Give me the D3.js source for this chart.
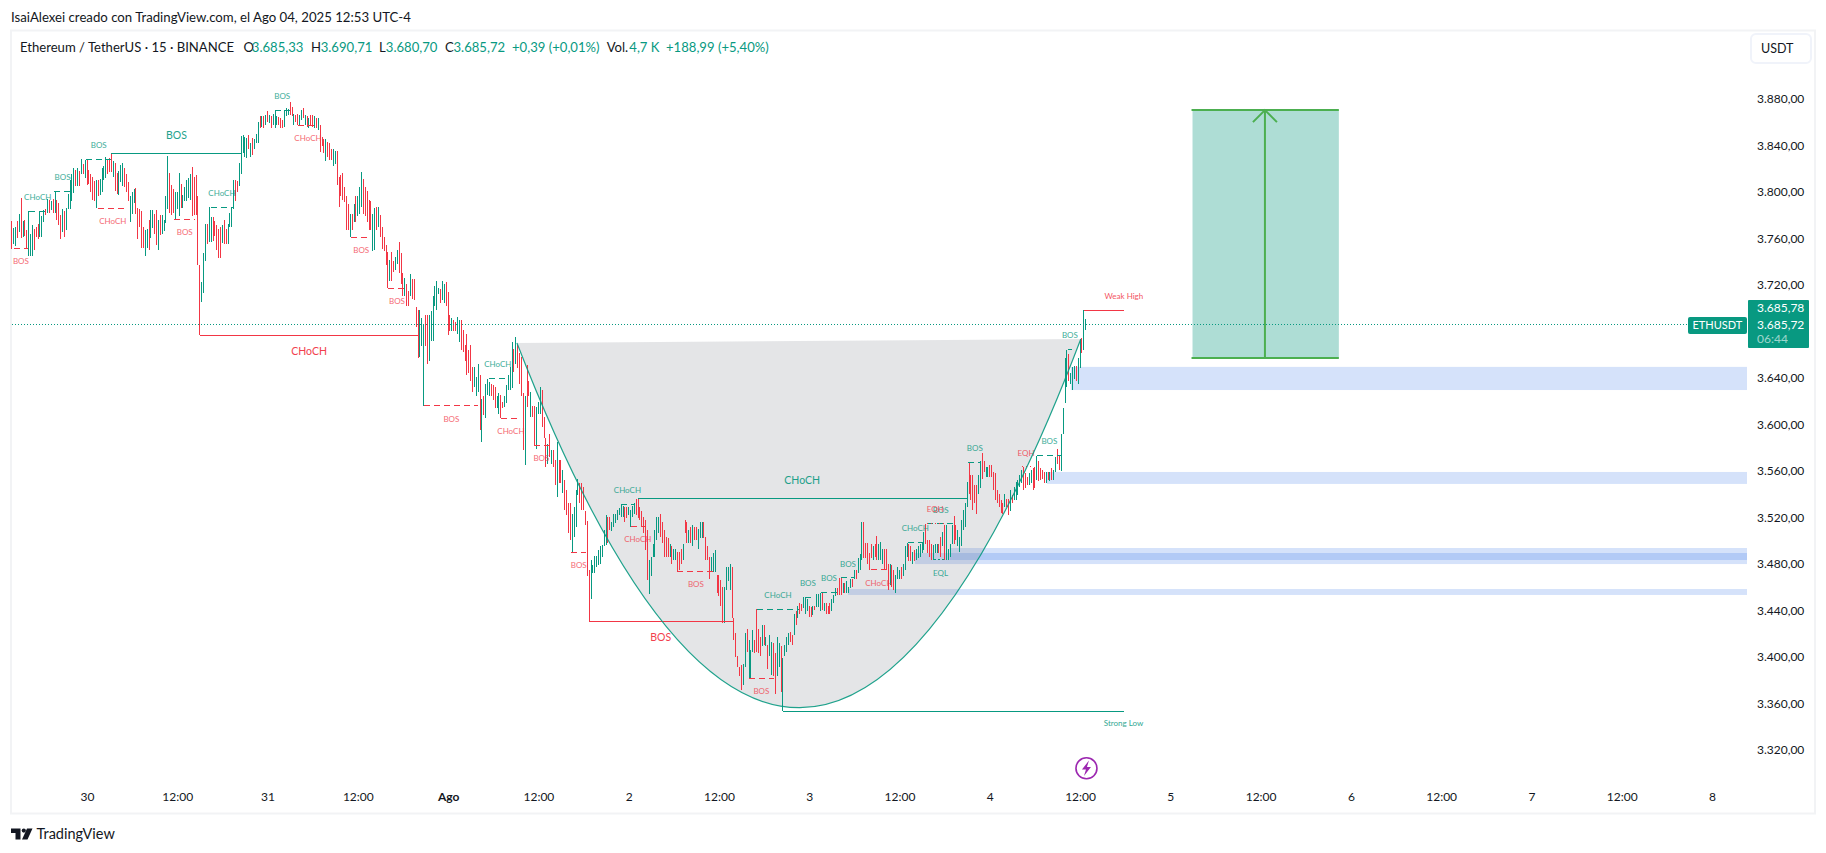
<!DOCTYPE html>
<html>
<head>
<meta charset="utf-8">
<title>ETHUSDT 15</title>
<script src="https://cdnjs.cloudflare.com/ajax/libs/d3/7.9.0/d3.min.js"></script>
<style>
  html, body { margin: 0; padding: 0; background: #fff; overflow: hidden; }
  text { font-family: "Lato", "Noto Sans", sans-serif; }
</style>
</head>
<body>
<div id="wrapper"></div>
<script>
// 15 min bars, bar 0 is Jul 29 14:00 chart time, last one Aug 4 12:45
const barHighs = [
  3775,3769,3770,3775,3781,3795,3775,3776,3767,3783,
  3764,3771,3768,3770,3772,3783,3779,3784,3785,3794,
  3793,3792,3794,3800,3793,3790,3780,3785,3783,3786,
  3798,3810,3815,3820,3819,3820,3818,3828,3824,3827,
  3828,3819,3815,3813,3809,3810,3810,3811,3820,3822,
  3830,3828,3829,3833,3826,3825,3816,3818,3823,3825,
  3820,3815,3808,3796,3800,3802,3803,3786,3785,3783,
  3770,3767,3768,3776,3784,3784,3781,3784,3776,3780,
  3780,3776,3796,3831,3816,3806,3802,3800,3800,3816,
  3807,3797,3804,3810,3812,3815,3821,3813,3814,3796,
  3737,3722,3747,3772,3772,3787,3778,3778,3775,3771,
  3768,3770,3771,3776,3768,3772,3782,3787,3810,3810,
  3809,3825,3848,3849,3847,3846,3849,3842,3846,3845,
  3850,3860,3865,3865,3865,3866,3869,3866,3865,3867,
  3870,3865,3864,3863,3862,3870,3872,3871,3877,3873,
  3867,3866,3867,3866,3870,3872,3866,3865,3863,3866,
  3866,3865,3863,3863,3857,3847,3845,3845,3843,3842,
  3837,3837,3835,3835,3813,3814,3816,3804,3796,3789,
  3781,3781,3789,3796,3796,3804,3817,3811,3804,3801,
  3793,3792,3781,3786,3787,3787,3780,3770,3761,3754,
  3748,3741,3748,3740,3744,3750,3757,3747,3730,3726,
  3721,3715,3729,3725,3725,3701,3698,3698,3691,3686,
  3694,3694,3694,3697,3710,3719,3723,3717,3716,3723,
  3721,3722,3714,3694,3691,3690,3688,3692,3690,3690,
  3681,3668,3678,3664,3668,3649,3649,3641,3652,3642,
  3622,3624,3635,3639,3636,3635,3634,3632,3624,3627,
  3625,3619,3624,3634,3642,3649,3671,3665,3675,3668,
  3661,3658,3627,3624,3651,3637,3628,3616,3616,3615,
  3619,3632,3629,3606,3588,3583,3592,3578,3578,3569,
  3585,3569,3569,3561,3552,3543,3532,3532,3523,3529,
  3543,3553,3549,3549,3546,3525,3517,3475,3483,3479,
  3487,3487,3492,3495,3496,3509,3522,3520,3520,3516,
  3523,3523,3526,3528,3531,3530,3529,3529,3529,3526,
  3530,3532,3536,3536,3529,3525,3520,3518,3509,3483,
  3486,3497,3509,3520,3520,3523,3516,3509,3503,3502,
  3497,3495,3493,3493,3490,3490,3493,3497,3518,3516,
  3509,3512,3513,3512,3512,3510,3516,3516,3516,3503,
  3495,3486,3486,3489,3492,3470,3470,3466,3460,3460,
  3477,3477,3480,3477,3433,3420,3401,3391,3393,3394,
  3420,3424,3414,3406,3423,3414,3441,3424,3417,3427,
  3427,3417,3410,3419,3413,3412,3403,3417,3412,3409,
  3399,3410,3417,3420,3421,3419,3437,3439,3444,3446,
  3445,3451,3451,3450,3444,3443,3444,3444,3454,3454,
  3455,3455,3446,3446,3444,3446,3450,3453,3459,3459,
  3468,3468,3463,3463,3465,3460,3467,3467,3475,3475,
  3485,3488,3516,3516,3498,3498,3489,3497,3495,3497,
  3504,3497,3499,3493,3493,3493,3480,3480,3479,3475,
  3470,3477,3475,3477,3480,3495,3498,3497,3495,3490,
  3492,3493,3495,3497,3499,3507,3514,3500,3500,3497,
  3496,3497,3497,3497,3503,3507,3513,3513,3493,3497,
  3513,3521,3513,3509,3503,3518,3526,3532,3550,3567,
  3556,3556,3548,3548,3556,3568,3575,3568,3563,3563,
  3565,3565,3559,3558,3543,3540,3535,3532,3540,3536,
  3536,3543,3539,3546,3550,3552,3556,3561,3563,3558,
  3555,3558,3561,3562,3563,3573,3568,3562,3561,3559,
  3559,3559,3559,3562,3561,3572,3579,3573,3592,3614,
  3657,3664,3660,3644,3649,3650,3650,3657,3673,3674,
  3698,3690.71
]
const barLows = [
  3751,3755,3753,3760,3765,3760,3761,3762,3751,3745,
  3745,3745,3750,3761,3759,3761,3761,3774,3780,3782,
  3782,3784,3782,3782,3776,3771,3759,3765,3761,3767,
  3785,3785,3792,3799,3805,3805,3805,3815,3815,3812,
  3806,3807,3800,3793,3792,3786,3796,3797,3800,3810,
  3812,3815,3817,3817,3813,3801,3798,3797,3808,3805,
  3804,3800,3792,3774,3781,3790,3781,3759,3770,3752,
  3752,3745,3752,3750,3760,3769,3764,3754,3750,3763,
  3764,3766,3773,3785,3782,3780,3782,3776,3785,3779,
  3786,3786,3792,3792,3795,3793,3779,3780,3780,3737,
  3676.5,3705,3713,3740,3755,3757,3757,3758,3762,3750,
  3743,3743,3756,3755,3755,3755,3770,3770,3785,3792,
  3800,3805,3815,3833,3830,3829,3837,3830,3832,3837,
  3842,3842,3855,3856,3855,3857,3860,3859,3855,3857,
  3855,3857,3857,3855,3855,3856,3865,3866,3866,3865,
  3857,3860,3857,3857,3862,3863,3857,3856,3855,3857,
  3856,3855,3855,3853,3834,3839,3833,3826,3830,3827,
  3827,3822,3824,3806,3787,3796,3793,3791,3767,3767,
  3761,3767,3774,3774,3779,3781,3787,3781,3779,3774,
  3767,3767,3749,3750,3767,3770,3761,3751,3749,3737,
  3717,3723,3723,3731,3733,3738,3730,3721,3710,3710,
  3702,3702,3710,3708,3707,3684,3657,3658,3667,3615.7,
  3667,3652,3654,3672,3672,3702,3698,3712,3704,3707,
  3704,3702,3677,3680,3680,3680,3680,3678,3671,3664,
  3662,3654,3642,3644,3637,3628,3632,3624,3628,3595,
  3585,3608,3605,3625,3624,3624,3621,3614,3614,3609,
  3605,3614,3615,3618,3629,3629,3631,3645,3652,3648,
  3635,3624,3578,3565,3615,3624,3606,3606,3582,3579,
  3609,3609,3598,3588,3563,3566,3572,3566,3563,3548,
  3537,3549,3549,3541,3526,3522,3506,3500,3490,3503,
  3512,3539,3532,3526,3526,3513,3469,3430.5,3450,3472,
  3472,3477,3479,3480,3486,3495,3496,3498,3509,3508,
  3512,3515,3518,3522,3520,3520,3516,3519,3522,3512,
  3520,3523,3522,3519,3518,3512,3506,3492,3466,3454,
  3469,3486,3486,3500,3506,3503,3498,3486,3486,3486,
  3486,3480,3483,3483,3474,3475,3480,3483,3506,3498,
  3498,3498,3495,3500,3500,3493,3502,3502,3502,3483,
  3483,3467,3473,3473,3473,3455,3452,3444,3429,3429,
  3457,3465,3457,3433,3414,3400,3391,3383,3371,3376,
  3391,3404,3381,3381,3404,3403,3404,3403,3401,3409,
  3410,3409,3389,3401,3384,3383,3368,3383,3391,3370,
  3353,3401,3404,3410,3413,3410,3419,3427,3433,3437,
  3439,3442,3437,3439,3434,3434,3436,3440,3443,3443,
  3439,3440,3439,3437,3437,3437,3439,3446,3452,3453,
  3453,3453,3455,3455,3455,3455,3459,3460,3467,3467,
  3472,3475,3483,3485,3485,3480,3475,3485,3483,3486,
  3483,3483,3483,3480,3475,3475,3457,3462,3460,3457,
  3455,3467,3467,3467,3469,3475,3486,3482,3482,3480,
  3482,3483,3485,3486,3489,3492,3497,3489,3486,3483,
  3483,3489,3489,3489,3486,3495,3483,3483,3483,3486,
  3497,3497,3500,3495,3490,3495,3509,3512,3529,3540,
  3535,3526,3532,3523,3540,3545,3553,3559,3555,3555,
  3555,3555,3543,3535,3532,3529,3524,3523,3529,3529,
  3522,3525,3532,3535,3535,3539,3546,3549,3543,3545,
  3548,3548,3549,3543,3545,3552,3551,3552,3553,3549,
  3549,3552,3551,3552,3552,3559,3566,3561,3560,3592,
  3618,3632,3637,3635,3629,3639,3637,3635,3648,3661,
  3664,3680.7
]
// u = closed up, d = closed down, 10 bars per pair
const barDirs = `
  duudu duddu uuddd uuudu dudud ddudu uuuud ududu ddddd uduuu
  udddu dduuu ddduu udddd duudu uddud uuuud dduuu duuuu udddd
  duuud uuddd ddudd uuuud duuuu ududu uudud ududu uuddd uuudd
  udduu dudud dudud ddudd duudd ddddd ududu uuddd dduud udddd
  duddu udddu ddudd dduuu dduuu uuudu udddu dduud ddddd duuud
  uduuu ddduu dduuu uudud dddud duddu uuddd ududd uddud ddduu
  uuddd ddduu uuuuu uuddu uuuuu udduu uuddd ddddu uuuuu ddddd
  uduud ddudd ududd uuudd dduuu ddddu uuudd ddddu uduuu ddddu
  duduu dduud uuuud dudud duuud duduu ududd duuud ddudu uudud
  uuudd dddud duuud ddudd uuudu uuddu duuuu udddd uuudd uduuu
  udduu uuuud ddddu udduu ddddd dddud duduu uuudd duudd udddd
  ududu udduu uuduu uduud uu`.replace(/\s/g, "")

// structure lines: first bar, last bar, price, label
const dashedUp = [
  [9.4,18.2,3783.1,"CHoCH"],[22.6,31.4,3800.3,"BOS"],[39.7,52.8,3827.9,"BOS"],
  [105.7,117.8,3786.6,"CHoCH"],[139.8,147.8,3870,"BOS"],[253.6,263.3,3639.5,"CHoCH"],
  [323.9,330.8,3531.1,"CHoCH"],[396.4,418.4,3440.8,"CHoCH"],[421.7,424.9,3451.1,"BOS"],
  [430.4,438.6,3455.4,"BOS"],[440.9,448.3,3467.9,"BOS"],[476.3,484.5,3498.4,"CHoCH"],
  [486.4,501.4,3514.2,"BOS"],[508.6,515.5,3567.2,"BOS"],[545,558.4,3573.2,"BOS"],
  [561.4,563.8,3664.3,"BOS"]
]
const dashedDown = [
  [1.3,8.4,3751.3,"BOS"],[45.6,61.8,3785.7,"CHoCH"],[86.5,97.4,3776.3,"BOS"],
  [152.4,162.6,3857.1,"CHoCH"],[180.5,191.1,3760.8,"BOS"],[200.2,209.4,3716.9,"BOS"],
  [219.4,248.1,3615.7,"BOS"],[260.3,270.5,3605.1,"CHoCH"],[277.6,285.6,3581.9,"BOS"],
  [297.6,305.3,3489.8,"BOS"],[329.2,336.5,3512.2,"CHoCH"],[353.6,373.9,3473.5,"BOS"],
  [391.9,405.2,3381.4,"BOS"],[456.8,465.3,3474.6,"CHoCH"]
]
const solidUp = [[52.8,122.4,3833,"BOS"],[332.8,507.8,3536.3,"CHoCH"]]
const solidDown = [[100.3,215.9,3676.5,"CHoCH"],[306.8,383.3,3430.5,"BOS"]]
const equalHighs = [[486.4,495.6,3515,"EQH"],[536.9,541.7,3563.4,"EQH"]]
const equalLows = [[490.5,497.2,3483.2,"EQL"]]
const weakHigh = [570.2,591.3,3698,"Weak High"]
const strongLow = [410.3,591.1,3353,"Strong Low"]

// zones: first bar, top price, bottom price (all run out to the price scale)
const zones = [
  [563.1,3649.3,3629.4],[550.4,3558.9,3548.6],[498.8,3493.5,3483.2],
  [480.2,3489.2,3479.7],[444.6,3458.2,3453.1]
]

// rounded bottom drawing: start, control, end as [bar, price]
const cupStart = [268.6,3669.8]
const cupControl = [419.6,3040.7]
const cupEnd = [568.4,3673.3]

// long position box: first bar, last bar, arrow bar, top, bottom
const targetBox = [627.8,705.6,666.3,3870.2,3657]

const priceTicks = [3880,3840,3800,3760,3720,3640,3600,3560,3520,3480,3440,3400,3360,3320]
const timeTicks = [
  ["2025-07-30T00:00Z","30"],["2025-07-30T12:00Z","12:00"],["2025-07-31T00:00Z","31"],
  ["2025-07-31T12:00Z","12:00"],["2025-08-01T00:00Z","Ago"],["2025-08-01T12:00Z","12:00"],
  ["2025-08-02T00:00Z","2"],["2025-08-02T12:00Z","12:00"],["2025-08-03T00:00Z","3"],
  ["2025-08-03T12:00Z","12:00"],["2025-08-04T00:00Z","4"],["2025-08-04T12:00Z","12:00"],
  ["2025-08-05T00:00Z","5"],["2025-08-05T12:00Z","12:00"],["2025-08-06T00:00Z","6"],
  ["2025-08-06T12:00Z","12:00"],["2025-08-07T00:00Z","7"],["2025-08-07T12:00Z","12:00"],
  ["2025-08-08T00:00Z","8"]
]

const lastPrice = 3685.72
const titleText = "IsaiAlexei creado con TradingView.com, el Ago 04, 2025 12:53 UTC-4"
const legendDark = [["Ethereum / TetherUS · 15 · BINANCE",20],["O",243.4],["H",311],["L",379],["C",445],["Vol.",606.7]]
const legendGreen = [["3.685,33",251.8],["3.690,71",320.7],["3.680,70",385.8],
  ["3.685,72",453.5],["+0,39 (+0,01%)",512],["4,7 K",629.3],["+188,99 (+5,40%)",666]]

const green = "#089981"
const red = "#f23645"
const dark = "#131722"

const svg = d3.select("#wrapper").append("svg")
    .attr("width", 1826)
    .attr("height", 853)
    .style("display", "block")

//Create Scales
const firstBar = Date.UTC(2025, 6, 29, 14)
const barTime = i => new Date(firstBar + i * 15 * 60000)

const xScale = d3.scaleUtc()
    .domain([new Date("2025-07-30T00:00Z"), new Date("2025-08-08T00:00Z")])
    .range([87, 1712])
const yScale = d3.scaleLinear()
    .domain([3320, 3880])
    .range([749.7, 98.7])
const barX = i => xScale(barTime(i))

const paneRight = 1747

//Frame
svg.append("rect")
    .attr("x", 11).attr("y", 30.5)
    .attr("width", 1804).attr("height", 783)
    .attr("fill", "none")
    .attr("stroke", "#f2f3f5")
    .attr("stroke-width", 2)

//Zones
svg.append("g").selectAll("rect")
  .data(zones)
  .enter().append("rect")
    .attr("x", d => barX(d[0]))
    .attr("y", d => yScale(d[1]))
    .attr("width", d => paneRight - barX(d[0]))
    .attr("height", d => yScale(d[2]) - yScale(d[1]))
    .attr("fill", "rgba(25,100,230,0.185)")

//Cup
const cupPath = () => {
  const p = d3.path()
  p.moveTo(barX(cupStart[0]), yScale(cupStart[1]))
  p.quadraticCurveTo(barX(cupControl[0]), yScale(cupControl[1]), barX(cupEnd[0]), yScale(cupEnd[1]))
  return p
}
svg.append("path")
    .attr("d", cupPath().toString() + "Z")
    .attr("fill", "rgba(120,123,134,0.2)")

//Bars, at this zoom a candle is a single stick
svg.append("g").selectAll("line")
  .data(barHighs)
  .enter().append("line")
    .attr("x1", (d, i) => barX(i))
    .attr("x2", (d, i) => barX(i))
    .attr("y1", d => yScale(d))
    .attr("y2", (d, i) => yScale(barLows[i]))
    .attr("stroke", (d, i) => barDirs[i] === "u" ? green : red)
    .attr("stroke-width", 1)
    .attr("shape-rendering", "crispEdges")

//Structure lines and their labels
const drawLines = (rows, color, dash, labelSize, labelOffset, labelOpacity) => {
  const g = svg.append("g")
  g.selectAll("line")
    .data(rows)
    .enter().append("line")
      .attr("x1", d => barX(d[0]))
      .attr("x2", d => barX(d[1]))
      .attr("y1", d => yScale(d[2]))
      .attr("y2", d => yScale(d[2]))
      .attr("stroke", color)
      .attr("stroke-width", 1)
      .attr("stroke-dasharray", dash)
      .attr("shape-rendering", "crispEdges")
  g.selectAll("text")
    .data(rows)
    .enter().append("text")
      .attr("x", d => (barX(d[0]) + barX(d[1])) / 2)
      .attr("y", d => yScale(d[2]) + labelOffset)
      .attr("dy", "0.35em")
      .attr("text-anchor", "middle")
      .attr("font-size", labelSize)
      .attr("fill", color)
      .attr("opacity", labelOpacity)
      .text(d => d[3])
}
drawLines(dashedUp, green, "6 4", 8, -14, 0.8)
drawLines(dashedDown, red, "6 4", 8, 13, 0.75)
drawLines(solidUp, green, null, 10.5, -18, 0.9)
drawLines(solidDown, red, null, 10.5, 16, 0.95)
drawLines(equalHighs, red, "1.5 2.5", 8, -14, 0.8)
drawLines(equalLows, green, "1.5 2.5", 8, 13, 0.8)

const drawEndLine = (row, color, offset) => {
  svg.append("line")
      .attr("x1", barX(row[0])).attr("x2", barX(row[1]))
      .attr("y1", yScale(row[2])).attr("y2", yScale(row[2]))
      .attr("stroke", color).attr("stroke-width", 1)
      .attr("shape-rendering", "crispEdges")
  svg.append("text")
      .attr("x", barX(row[1])).attr("y", yScale(row[2]) + offset)
      .attr("dy", "0.35em")
      .attr("text-anchor", "middle")
      .attr("font-size", 8)
      .attr("fill", color)
      .attr("opacity", 0.85)
      .text(row[3])
}
drawEndLine(weakHigh, red, -14)
drawEndLine(strongLow, green, 12)

// cup outline goes over the candles, no stroke along its top edge
svg.append("path")
    .attr("d", cupPath().toString())
    .attr("fill", "none")
    .attr("stroke", green)
    .attr("stroke-opacity", 0.9)
    .attr("stroke-width", 1.2)

//Long position box
const boxLeft = barX(targetBox[0]), boxRight = barX(targetBox[1]), arrowX = barX(targetBox[2])
const boxTop = yScale(targetBox[3]), boxBottom = yScale(targetBox[4])
svg.append("rect")
    .attr("x", boxLeft).attr("y", boxTop)
    .attr("width", boxRight - boxLeft).attr("height", boxBottom - boxTop)
    .attr("fill", "rgba(8,153,129,0.33)")
svg.append("g").selectAll("line")
  .data([boxTop, boxBottom])
  .enter().append("line")
    .attr("x1", boxLeft - 1).attr("x2", boxRight)
    .attr("y1", d => d).attr("y2", d => d)
    .attr("stroke", "#4caf50").attr("stroke-width", 2)
svg.append("path")
    .attr("d", `M${arrowX},${boxBottom}V${boxTop}M${arrowX - 12},${boxTop + 12}L${arrowX},${boxTop}L${arrowX + 12},${boxTop + 12}`)
    .attr("fill", "none")
    .attr("stroke", "#4caf50").attr("stroke-width", 2)

//Last price line
svg.append("line")
    .attr("x1", 12).attr("x2", 1688)
    .attr("y1", yScale(lastPrice)).attr("y2", yScale(lastPrice))
    .attr("stroke", green)
    .attr("stroke-dasharray", "1 2")
    .attr("shape-rendering", "crispEdges")

//Axes
const priceFormat = d3.formatLocale({decimal: ",", thousands: ".", grouping: [3], currency: ["", ""]}).format(",.2f")

const yAxis = svg.append("g")
    .attr("transform", "translate(1757,0)")
    .call(d3.axisRight(yScale).tickValues(priceTicks).tickSize(0).tickPadding(0).tickFormat(priceFormat))
yAxis.select(".domain").remove()
yAxis.selectAll("text")
    .attr("font-size", 12)
    .attr("fill", dark)
    .style("font-family", "'Lato','Noto Sans',sans-serif")

const timeLabels = new Map(timeTicks.map(d => [+new Date(d[0]), d[1]]))
const xAxis = svg.append("g")
    .attr("transform", "translate(0,792)")
    .call(d3.axisBottom(xScale)
      .tickValues(timeTicks.map(d => new Date(d[0])))
      .tickSize(0).tickPadding(0)
      .tickFormat(d => timeLabels.get(+d)))
xAxis.select(".domain").remove()
xAxis.selectAll("text")
    .attr("font-size", 12)
    .attr("font-weight", d => timeLabels.get(+d) === "Ago" ? 700 : 400)
    .attr("fill", dark)
    .style("font-family", "'Lato','Noto Sans',sans-serif")

//Texts on top
svg.append("text")
    .attr("x", 11).attr("y", 17).attr("dy", "0.35em")
    .attr("font-size", 13.2).attr("fill", dark)
    .text(titleText)

const legendRow = (rows, color) => svg.append("g").selectAll("text")
  .data(rows)
  .enter().append("text")
    .attr("x", d => d[1]).attr("y", 47).attr("dy", "0.35em")
    .attr("font-size", 13.1).attr("fill", color)
    .text(d => d[0])
legendRow(legendDark, dark)
legendRow(legendGreen, green)

// USDT button
svg.append("rect")
    .attr("x", 1751).attr("y", 34).attr("width", 60).attr("height", 29).attr("rx", 5)
    .attr("fill", "#fff").attr("stroke", "#f0f3fa").attr("stroke-width", 2)
svg.append("text")
    .attr("x", 1761).attr("y", 48.5).attr("dy", "0.35em")
    .attr("font-size", 12.5).attr("fill", dark).text("USDT")

// last price labels
svg.append("rect")
    .attr("x", 1688).attr("y", 317).attr("width", 59).attr("height", 17).attr("rx", 2)
    .attr("fill", green)
svg.append("text")
    .attr("x", 1692.5).attr("y", 325.5).attr("dy", "0.35em")
    .attr("font-size", 11).attr("fill", "#fff").text("ETHUSDT")
svg.append("rect")
    .attr("x", 1748).attr("y", 300).attr("width", 61).attr("height", 48).attr("rx", 1)
    .attr("fill", green)
svg.append("g").selectAll("text")
  .data([["3.685,78",308,1],["3.685,72",325,1],["06:44",339,0.6]])
  .enter().append("text")
    .attr("x", 1757).attr("y", d => d[1]).attr("dy", "0.35em")
    .attr("font-size", 12).attr("fill", "#fff").attr("opacity", d => d[2])
    .text(d => d[0])

// session marker under the last bar
const markerX = barX(571.4)
svg.append("circle")
    .attr("cx", markerX).attr("cy", 768.3).attr("r", 10.5)
    .attr("fill", "#fff").attr("stroke", "#9c27b0").attr("stroke-width", 1.6)
svg.append("path")
    .attr("d", `M${markerX + 2.5},${760.5}L${markerX - 4.5},${769.5}H${markerX - 0.5}L${markerX - 2.5},${776}L${markerX + 4.5},${767}H${markerX + 0.5}Z`)
    .attr("fill", "#9c27b0")

// TradingView logo
svg.append("path")
    .attr("d", "M11,828.5H20.5V839.5H15.5V833H11ZM27,828.5H32.5L27.5,839.5H22Z")
    .attr("fill", dark)
svg.append("circle")
    .attr("cx", 23.8).attr("cy", 830.6).attr("r", 2.1)
    .attr("fill", dark)
svg.append("text")
    .attr("x", 36.5).attr("y", 834).attr("dy", "0.35em")
    .attr("font-size", 14.5).attr("fill", dark).text("TradingView")
</script>
</body>
</html>
